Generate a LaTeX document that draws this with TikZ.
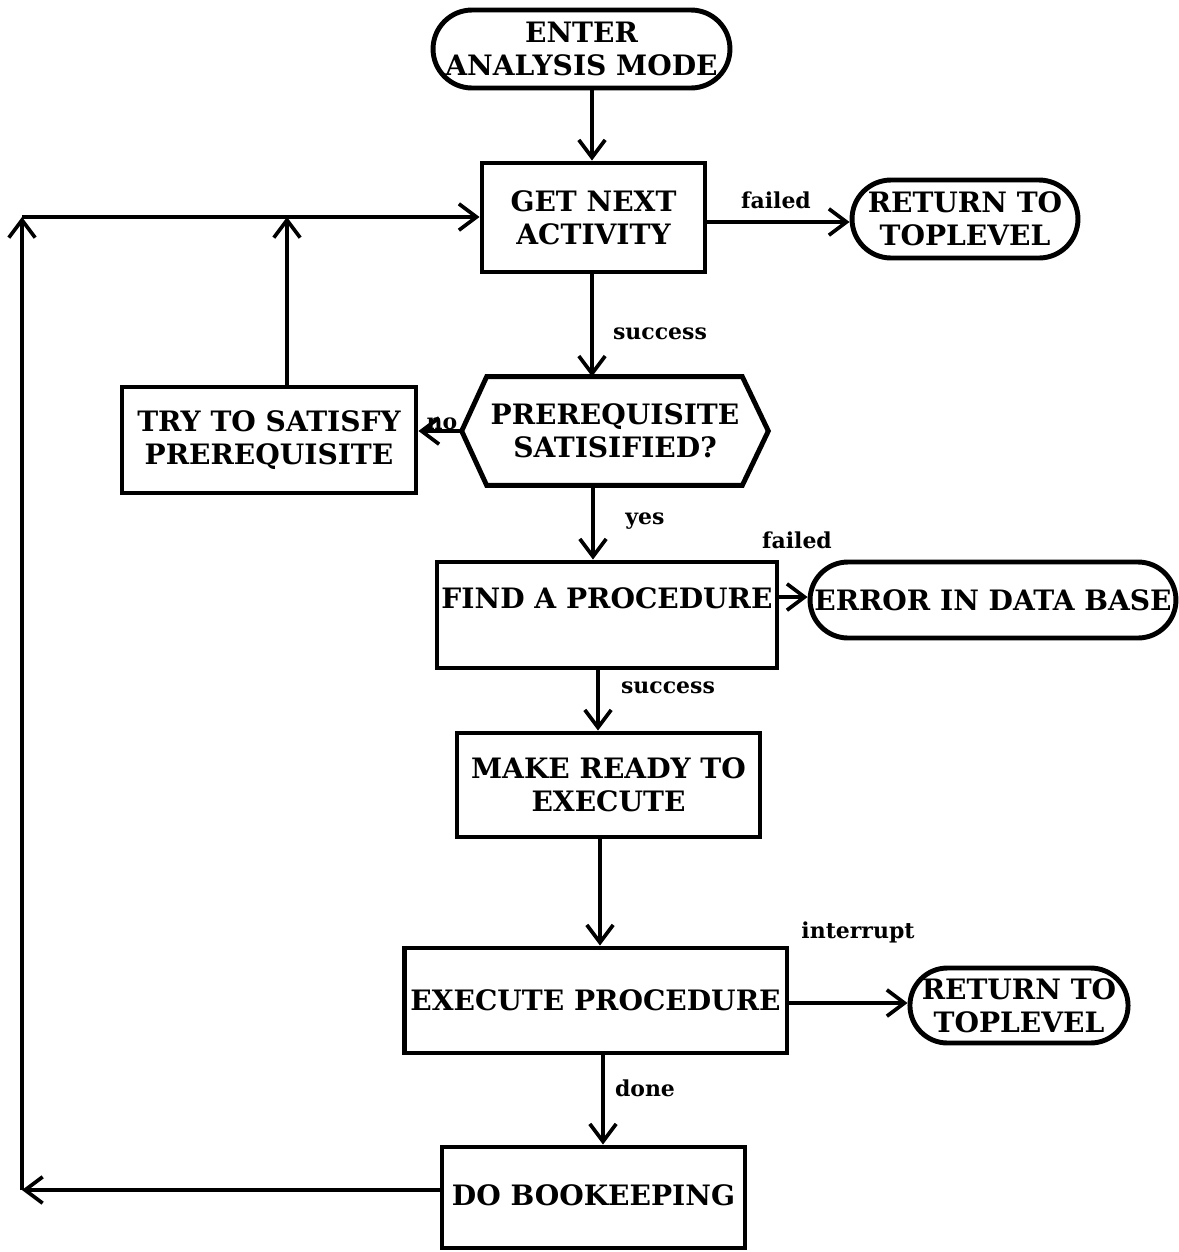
\documentclass[tikz,border=0pt]{standalone}
\usepackage{fontspec}
\setmainfont{DejaVu Serif}
\usetikzlibrary{arrows.meta,shapes.misc}
\begin{document}
\begin{tikzpicture}[x=0.02cm,y=-0.02cm,
  every node/.style={font=\bfseries\fontsize{16}{19}\selectfont, align=center, inner sep=0pt},
  box/.style={draw, line width=2.8pt, rectangle},
  pill/.style={draw, line width=2.8pt, rounded rectangle},
  lbl/.style={font=\bfseries\fontsize{12.5}{14}\selectfont},
  arr/.style={line width=2.1pt, -{Straight Barb[length=10pt,width=15pt]}},
  ln/.style={line width=2.1pt}]
\useasboundingbox (0,0) rectangle (1178,1252);

% nodes
\node[pill, minimum width=5.94cm, minimum height=1.56cm] (enter) at (581.5,49) {ENTER\\ANALYSIS MODE};
\node[box, minimum width=4.46cm, minimum height=2.18cm] (getnext) at (593.5,217.5) {GET NEXT\\ACTIVITY};
\node[pill, minimum width=4.52cm, minimum height=1.56cm] (rtop) at (965,219) {RETURN TO\\TOPLEVEL};
\node[minimum width=6.12cm, minimum height=2.16cm] (hex) at (615,431) {PREREQUISITE\\SATISIFIED?};
\draw[line width=2.8pt] (hex.west) -- ([xshift=0.5cm]hex.north west) -- ([xshift=-0.52cm]hex.north east)
  -- (hex.east) -- ([xshift=-0.52cm]hex.south east) -- ([xshift=0.5cm]hex.south west) -- cycle;
\node[box, minimum width=5.88cm, minimum height=2.12cm] (try) at (269,440) {TRY TO SATISFY\\PREREQUISITE};
\node[box, minimum width=6.8cm, minimum height=2.12cm] (find) at (607,615) {};
\node (findtxt) at (607,598) {FIND A PROCEDURE};
\node[pill, minimum width=7.32cm, minimum height=1.52cm] (err) at (993,600) {ERROR IN DATA BASE};
\node[box, minimum width=6.06cm, minimum height=2.08cm] (make) at (608.5,785) {MAKE READY TO\\EXECUTE};
\node[box, minimum width=7.66cm, minimum height=2.1cm] (exec) at (595.5,1000.5) {EXECUTE PROCEDURE};
\node[pill, minimum width=4.24cm, minimum height=1.5cm] (rbot) at (1019,1005.5) {RETURN TO\\TOPLEVEL};
\node[box, minimum width=6.06cm, minimum height=2.02cm] (do) at (593.5,1197.5) {};
\node (dotxt) at (593.5,1195) {DO BOOKEEPING};

% coordinates of the loop
\coordinate (c1) at (22,217);
\coordinate (c2) at (22,1190);
\coordinate (j1) at (287,217);

% connectors
\draw[arr] (enter.south -| 592,0) -- (getnext.north -| 592,0);
\draw[arr] (getnext.east |- 0,222) -- (rtop.west |- 0,222);
\node[lbl] (lfail1) at (776,200) {failed};
\draw[arr] (getnext.south -| 592,0) -- (hex.north -| 592,0);
\node[lbl] (lsucc1) at (660,334) {success};
\draw[arr] (hex.west) -- (try.east |- hex.west);
\node[lbl] (lno) at (442,424) {no};
\draw[arr] (try.north -| j1) -- (j1);
\draw[arr] (hex.south -| 593,0) -- (find.north -| 593,0);
\node[lbl] (lyes) at (645,521) {yes};
\draw[arr] (find.east |- 0,597) -- (err.west |- 0,597);
\node[lbl] (lfail2) at (797,540) {failed};
\draw[arr] (find.south -| 598,0) -- (make.north -| 598,0);
\node[lbl] (lsucc2) at (668,688) {success};
\draw[arr] (make.south -| 600,0) -- (exec.north -| 600,0);
\draw[arr] (exec.east |- 0,1003) -- (rbot.west |- 0,1003);
\node[lbl] (lint) at (858,932) {interrupt};
\draw[arr] (exec.south -| 603,0) -- (do.north -| 603,0);
\node[lbl] (ldone) at (645,1088) {done};
\draw[arr] (do.west |- c2) -- (c2);
\draw[arr] (c2) -- (c1);
\draw[arr] (c1) -- (getnext.west |- c1);
\end{tikzpicture}
\end{document}
